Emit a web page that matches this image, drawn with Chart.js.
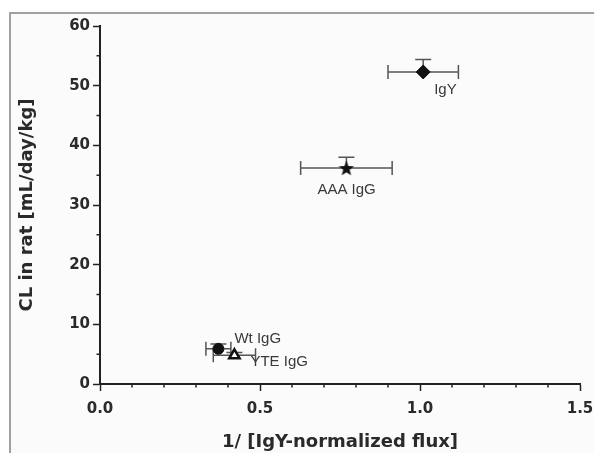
<!DOCTYPE html>
<html>
<head>
<meta charset="utf-8">
<script src="https://cdn.jsdelivr.net/npm/chart.js@4.4.0/dist/chart.umd.min.js"></script>
<style>
  html, body { margin: 0; padding: 0; background: #fff; }
  #wrap { width: 594px; height: 453px; }
</style>
</head>
<body>
<div id="wrap"><canvas id="clChart" width="594" height="453"></canvas></div>
<script>
// values
const names = ['IgY', 'AAA IgG', 'Wt IgG', 'YTE IgG'];
const xVals = [1.01, 0.77, 0.37, 0.42];
const yVals = [52.3, 36.2, 5.9, 4.8];
const xErr = [0.11, 0.143, 0.039, 0.066];
const yErr = [2.1, 1.8, 0.8, 0.5];
const xTickStep = 0.5;
const yTickStep = 10;

// where each name sits relative to its marker (px)
const labelOffsets = [[11, 22], [-29, 26], [16, -6], [16, 11]];

// filled five point star for AAA IgG
const makeStar = (size) => {
  const c = document.createElement('canvas');
  c.width = size; c.height = size;
  const g = c.getContext('2d');
  const cx = size / 2, cy = size / 2 + 0.8, R = size / 2, r = R * 0.42;
  g.beginPath();
  for (let i = 0; i < 10; i++) {
    const rad = i % 2 === 0 ? R : r;
    const a = -Math.PI / 2 + i * Math.PI / 5;
    const px = cx + rad * Math.cos(a), py = cy + rad * Math.sin(a);
    i === 0 ? g.moveTo(px, py) : g.lineTo(px, py);
  }
  g.closePath();
  g.fillStyle = '#111';
  g.fill();
  return c;
};
const star = makeStar(16);

// frame + off-white background
const frame = {
  id: 'frame',
  beforeDraw(chart) {
    const ctx = chart.ctx;
    ctx.save();
    ctx.fillStyle = '#fff';
    ctx.fillRect(0, 0, chart.width, chart.height);
    ctx.fillStyle = '#fbfbfb';
    ctx.fillRect(10, 13, chart.width - 10, chart.height - 13);
    ctx.strokeStyle = '#a0a0a0';
    ctx.lineWidth = 2;
    ctx.beginPath();
    ctx.moveTo(10, chart.height);
    ctx.lineTo(10, 13);
    ctx.lineTo(chart.width, 13);
    ctx.stroke();
    ctx.restore();
  }
};

// error bars (x both ways, y upward only) under the markers
const errorBars = {
  id: 'errorBars',
  beforeDatasetsDraw(chart) {
    const { ctx, scales: { x, y } } = chart;
    ctx.save();
    ctx.strokeStyle = '#555';
    ctx.lineWidth = 1.5;
    xVals.forEach((v, i) => {
      const px = x.getPixelForValue(v);
      const py = y.getPixelForValue(yVals[i]);
      const x0 = x.getPixelForValue(v - xErr[i]);
      const x1 = x.getPixelForValue(v + xErr[i]);
      const yt = y.getPixelForValue(yVals[i] + yErr[i]);
      ctx.beginPath();
      ctx.moveTo(x0, py); ctx.lineTo(x1, py);
      ctx.moveTo(x0, py - 7); ctx.lineTo(x0, py + 7);
      ctx.moveTo(x1, py - 7); ctx.lineTo(x1, py + 7);
      ctx.moveTo(px, py); ctx.lineTo(px, yt);
      ctx.moveTo(px - 8, yt); ctx.lineTo(px + 8, yt);
      ctx.stroke();
    });
    ctx.restore();
  },
  afterDatasetsDraw(chart) {
    const { ctx, scales: { x, y } } = chart;
    ctx.save();
    ctx.fillStyle = '#3a3a3a';
    ctx.font = '15px "Liberation Sans", Arial, sans-serif';
    ctx.textBaseline = 'alphabetic';
    names.forEach((n, i) => {
      const px = x.getPixelForValue(xVals[i]);
      const py = y.getPixelForValue(yVals[i]);
      ctx.fillText(n, px + labelOffsets[i][0], py + labelOffsets[i][1]);
    });
    ctx.restore();
  }
};

// short minor ticks (0.1 on x, 5 on y)
const minorTicks = {
  id: 'minorTicks',
  afterDraw(chart) {
    const { ctx, scales: { x, y }, chartArea } = chart;
    ctx.save();
    ctx.strokeStyle = '#222';
    ctx.lineWidth = 1.5;
    ctx.beginPath();
    for (let k = 1; k < 15; k++) {
      if (k % 5 === 0) continue;
      const px = x.getPixelForValue(k / 10);
      ctx.moveTo(px, chartArea.bottom); ctx.lineTo(px, chartArea.bottom + 3.5);
    }
    for (let k = 5; k < 60; k += 10) {
      const py = y.getPixelForValue(k);
      ctx.moveTo(chartArea.left, py); ctx.lineTo(chartArea.left - 3.5, py);
    }
    ctx.stroke();
    ctx.restore();
  }
};

const tickFont = { family: '"DejaVu Sans", sans-serif', size: 15, weight: 'bold' };
const titleFont = { family: '"DejaVu Sans", sans-serif', size: 18, weight: 'bold' };

const ctx = document.querySelector('#clChart').getContext('2d');
new Chart(ctx, {
  type: 'scatter',
  data: {
    datasets: [{
      label: 'CL',
      data: xVals.map((v, i) => ({ x: v, y: yVals[i] })),
      pointStyle: ['rectRot', star, 'circle', 'triangle'],
      pointRadius: [7, 8, 5.5, 6],
      backgroundColor: ['#111', '#111', '#111', '#fff'],
      borderColor: '#111',
      borderWidth: [1, 1, 1, 2.5],
    }],
  },
  options: {
    responsive: false,
    animation: false,
    layout: { padding: { top: 26, right: 14, left: 0, bottom: 0 } },
    plugins: {
      legend: { display: false },
      tooltip: { enabled: false },
    },
    scales: {
      x: {
        type: 'linear',
        min: 0, max: 1.5,
        afterFit: (s) => { s.height = 69; s.paddingRight = 0; s.paddingLeft = 0; },
        border: { color: '#222', width: 2 },
        grid: { drawOnChartArea: false, tickLength: 7, tickColor: '#222', tickWidth: 1.5 },
        ticks: {
          stepSize: xTickStep,
          color: '#2a2a2a',
          font: tickFont,
          padding: 9,
          maxRotation: 0,
          callback: (v) => v.toFixed(1),
        },
        title: {
          display: true,
          text: '1/ [IgY-normalized flux]',
          color: '#2a2a2a',
          font: titleFont,
          padding: { top: 0, bottom: 0 },
        },
      },
      y: {
        type: 'linear',
        min: 0, max: 60,
        afterFit: (s) => { s.width = 100; s.paddingTop = 0; s.paddingBottom = 0; },
        border: { color: '#222', width: 2 },
        grid: { drawOnChartArea: false, tickLength: 7, tickColor: '#222', tickWidth: 1.5 },
        ticks: {
          stepSize: yTickStep,
          color: '#2a2a2a',
          font: tickFont,
          padding: 3,
        },
        title: {
          display: true,
          text: 'CL in rat [mL/day/kg]',
          color: '#2a2a2a',
          font: titleFont,
          padding: { top: 17, bottom: 0 },
        },
      },
    },
  },
  plugins: [frame, errorBars, minorTicks],
});
</script>
</body>
</html>
